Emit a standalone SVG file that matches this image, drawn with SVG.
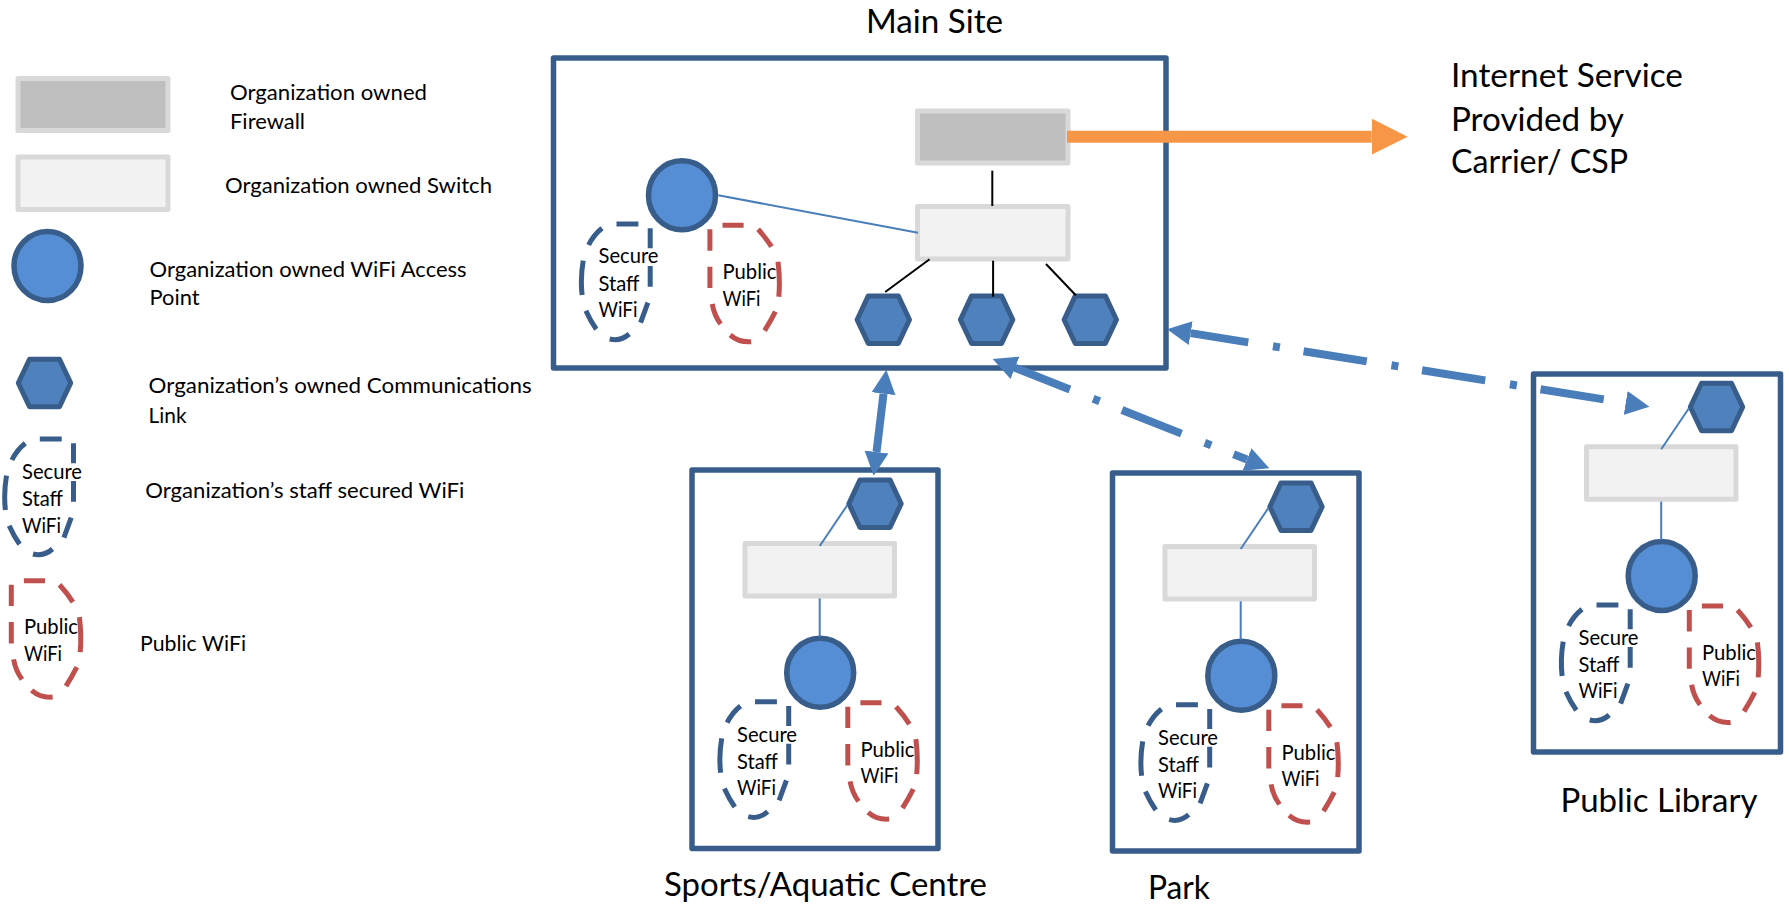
<svg xmlns="http://www.w3.org/2000/svg" width="1789" height="905" viewBox="0 0 1789 905">
<style>
text{font-family:"Lato","Carlito","Liberation Sans",sans-serif;fill:#000;font-size:21.5px}
.s{font-size:21px}
.t{font-size:33.5px}
.site{fill:#fff;stroke:#385d8a;stroke-width:5.5;stroke-linejoin:round}
.fw{fill:#bfbfbf;stroke:#d9d9d9;stroke-width:5;stroke-linejoin:round}
.sw{fill:#f2f2f2;stroke:#d9d9d9;stroke-width:5;stroke-linejoin:round}
.ap{fill:#558ed5;stroke:#385d8a;stroke-width:5.5}
.hex{fill:#4f81bd;stroke:#385d8a;stroke-width:5;stroke-linejoin:round}
.sec{fill:none;stroke:#385d8a;stroke-width:5}
.pub{fill:none;stroke:#c0504d;stroke-width:5}
.thin{stroke:#4a7ebb;stroke-width:2;fill:none}
.blk{stroke:#000;stroke-width:2;fill:none}
.link{stroke:#4a7ebb;stroke-width:8;fill:none}
.dd{stroke-dasharray:64 25 7 24}
</style>
<defs>
<marker id="ah" markerUnits="userSpaceOnUse" markerWidth="26" markerHeight="26" refX="0" refY="12" orient="auto-start-reverse" viewBox="0 0 26 24"><path d="M0 0L24 12L0 24Z" fill="#4a7ebb"/></marker>
<marker id="oh" markerUnits="userSpaceOnUse" markerWidth="38" markerHeight="38" refX="0" refY="18" orient="auto" viewBox="0 0 38 36"><path d="M0 0L36 18L0 36Z" fill="#f79646"/></marker>
<path id="hexagon" d="M-26.2 0L-15-23.8H15L26.2 0L15 23.8H-15Z"/>
<path id="secure" d="M0 0H21.9M33.7 4.3V24.3M33.7 42V62.7M31.4 78.7L24.1 98.7M12.7 110Q3.9 117.7-6.8 115M-20.2 105.3Q-26 97-30.6 86.7M-34.4 71Q-36.3 54.3-33.3 36.7M-27.9 21Q-22.9 11-14.5 4.3"/>
<path id="public" d="M0 0H21.1M-12.6 4V25.4M-12.6 41.4V62.7M-10.3 78.7Q-8.4 89.7-1.9 98.7M7.7 109.7Q16.5 117.4 28.7 116.4M42.1 105.4Q48 96 52.9 86.4M56.3 71.4Q57.8 54.7 55.5 36.4M49 21.4Q43 12 35.6 4"/>
</defs>
<rect width="1789" height="905" fill="#fff"/>

<g id="legend">
<g id="legend-firewall"><rect class="fw" x="18" y="78.5" width="150" height="52"/>
<text x="230" y="100" textLength="197" lengthAdjust="spacingAndGlyphs">Organization owned</text>
<text x="230" y="129" textLength="75" lengthAdjust="spacingAndGlyphs">Firewall</text></g>
<g id="legend-switch"><rect class="sw" x="18" y="157" width="150" height="52.5"/>
<text x="225" y="193.3" textLength="267" lengthAdjust="spacingAndGlyphs">Organization owned Switch</text></g>
<g id="legend-ap"><ellipse class="ap" cx="47.5" cy="266" rx="33.5" ry="34.5"/>
<text x="149.6" y="276.7" textLength="317" lengthAdjust="spacingAndGlyphs">Organization owned WiFi Access</text>
<text x="149.6" y="305" textLength="50" lengthAdjust="spacingAndGlyphs">Point</text></g>
<g id="legend-link"><use href="#hexagon" class="hex" x="44.5" y="383"/>
<text x="148.6" y="393" textLength="383" lengthAdjust="spacingAndGlyphs">Organization’s owned Communications</text>
<text x="148.6" y="422.7" textLength="38" lengthAdjust="spacingAndGlyphs">Link</text></g>
<g id="legend-secure"><use href="#secure" class="sec" x="39.8" y="439"/>
<text class="s" x="22" y="479.3" textLength="60" lengthAdjust="spacingAndGlyphs">Secure</text>
<text class="s" x="22" y="506" textLength="41" lengthAdjust="spacingAndGlyphs">Staff</text>
<text class="s" x="22" y="532.7" textLength="39" lengthAdjust="spacingAndGlyphs">WiFi</text>
<text x="145.3" y="498.3" textLength="319" lengthAdjust="spacingAndGlyphs">Organization’s staff secured WiFi</text></g>
<g id="legend-public"><use href="#public" class="pub" x="23.9" y="580.7"/>
<text class="s" x="24" y="634" textLength="54" lengthAdjust="spacingAndGlyphs">Public</text>
<text class="s" x="24" y="660.7" textLength="38" lengthAdjust="spacingAndGlyphs">WiFi</text>
<text x="140" y="650.7" textLength="106" lengthAdjust="spacingAndGlyphs">Public WiFi</text></g>
</g>

<g id="site-main">
<rect class="site" x="553.5" y="58" width="612.5" height="310"/>
<text class="t" x="866" y="32.7" textLength="137" lengthAdjust="spacingAndGlyphs">Main Site</text>
<g id="main-firewall"><rect class="fw" x="917.5" y="111" width="150.5" height="52"/></g>
<g id="main-switch"><rect class="sw" x="917.5" y="206.5" width="150.5" height="52.5"/></g>
<g id="main-link-1"><use href="#hexagon" class="hex" x="883.3" y="319.7"/></g>
<g id="main-link-2"><use href="#hexagon" class="hex" x="986.6" y="319.7"/></g>
<g id="main-link-3"><use href="#hexagon" class="hex" x="1090.3" y="319.7"/></g>
<g id="main-ap"><ellipse class="ap" cx="682" cy="195.3" rx="33.5" ry="34.5"/></g>
<g id="main-secure"><use href="#secure" class="sec" x="616.5" y="224"/>
<text class="s" x="598.5" y="263.3" textLength="60" lengthAdjust="spacingAndGlyphs">Secure</text>
<text class="s" x="598.5" y="290.7" textLength="41" lengthAdjust="spacingAndGlyphs">Staff</text>
<text class="s" x="598.5" y="317.3" textLength="39" lengthAdjust="spacingAndGlyphs">WiFi</text></g>
<g id="main-public"><use href="#public" class="pub" x="722.5" y="225.3"/>
<text class="s" x="722.5" y="278.7" textLength="54" lengthAdjust="spacingAndGlyphs">Public</text>
<text class="s" x="722.5" y="306" textLength="38" lengthAdjust="spacingAndGlyphs">WiFi</text></g>
</g>

<g id="site-sports">
<rect class="site" x="692" y="470" width="246" height="378.5"/>
<text class="t" x="664" y="895.7" textLength="323" lengthAdjust="spacingAndGlyphs">Sports/Aquatic Centre</text>
<g id="sports-link"><use href="#hexagon" class="hex" x="875" y="503.7"/></g>
<g id="sports-switch"><rect class="sw" x="745" y="543.5" width="149.5" height="52.5"/></g>
<g id="sports-ap"><ellipse class="ap" cx="820.2" cy="672.7" rx="33.5" ry="34.5"/></g>
<g id="sports-secure"><use href="#secure" class="sec" x="755" y="701.7"/>
<text class="s" x="737" y="741.7" textLength="60" lengthAdjust="spacingAndGlyphs">Secure</text>
<text class="s" x="737" y="768.7" textLength="41" lengthAdjust="spacingAndGlyphs">Staff</text>
<text class="s" x="737" y="795" textLength="39" lengthAdjust="spacingAndGlyphs">WiFi</text></g>
<g id="sports-public"><use href="#public" class="pub" x="860.4" y="702.7"/>
<text class="s" x="860.5" y="756.7" textLength="54" lengthAdjust="spacingAndGlyphs">Public</text>
<text class="s" x="860.5" y="782.7" textLength="38" lengthAdjust="spacingAndGlyphs">WiFi</text></g>
</g>

<g id="site-park">
<rect class="site" x="1112.5" y="473" width="246.5" height="378"/>
<text class="t" x="1148" y="899" textLength="62" lengthAdjust="spacingAndGlyphs">Park</text>
<g id="park-link"><use href="#hexagon" class="hex" x="1296" y="506.7"/></g>
<g id="park-switch"><rect class="sw" x="1165" y="546.5" width="149.5" height="52.5"/></g>
<g id="park-ap"><ellipse class="ap" cx="1241.3" cy="675.7" rx="33.5" ry="34.5"/></g>
<g id="park-secure"><use href="#secure" class="sec" x="1176" y="704.7"/>
<text class="s" x="1158" y="744.7" textLength="60" lengthAdjust="spacingAndGlyphs">Secure</text>
<text class="s" x="1158" y="771.7" textLength="41" lengthAdjust="spacingAndGlyphs">Staff</text>
<text class="s" x="1158" y="798" textLength="39" lengthAdjust="spacingAndGlyphs">WiFi</text></g>
<g id="park-public"><use href="#public" class="pub" x="1281.4" y="705.7"/>
<text class="s" x="1281.5" y="759.7" textLength="54" lengthAdjust="spacingAndGlyphs">Public</text>
<text class="s" x="1281.5" y="785.7" textLength="38" lengthAdjust="spacingAndGlyphs">WiFi</text></g>
</g>

<g id="site-library">
<rect class="site" x="1533.5" y="374" width="247" height="378"/>
<text class="t" x="1560.5" y="812" textLength="197" lengthAdjust="spacingAndGlyphs">Public Library</text>
<g id="library-link"><use href="#hexagon" class="hex" x="1716.5" y="407"/></g>
<g id="library-switch"><rect class="sw" x="1586.5" y="446.8" width="149.5" height="52.5"/></g>
<g id="library-ap"><ellipse class="ap" cx="1661.7" cy="576" rx="33.5" ry="34.5"/></g>
<g id="library-secure"><use href="#secure" class="sec" x="1596.5" y="605"/>
<text class="s" x="1578.5" y="645" textLength="60" lengthAdjust="spacingAndGlyphs">Secure</text>
<text class="s" x="1578.5" y="672" textLength="41" lengthAdjust="spacingAndGlyphs">Staff</text>
<text class="s" x="1578.5" y="698.3" textLength="39" lengthAdjust="spacingAndGlyphs">WiFi</text></g>
<g id="library-public"><use href="#public" class="pub" x="1701.9" y="606"/>
<text class="s" x="1702" y="660" textLength="54" lengthAdjust="spacingAndGlyphs">Public</text>
<text class="s" x="1702" y="686" textLength="38" lengthAdjust="spacingAndGlyphs">WiFi</text></g>
</g>

<g id="internet-label">
<text class="t" x="1451" y="86.7" textLength="232" lengthAdjust="spacingAndGlyphs">Internet Service</text>
<text class="t" x="1451" y="130.7" textLength="173" lengthAdjust="spacingAndGlyphs">Provided by</text>
<text class="t" x="1451" y="173.3" textLength="177" lengthAdjust="spacingAndGlyphs">Carrier/ CSP</text>
</g>

<g id="connectors">
<path class="blk" d="M992.3 170.7V206"/>
<path class="blk" d="M929.6 259.3L885.2 292"/>
<path class="blk" d="M993.1 260.7V296.7"/>
<path class="blk" d="M1046 264L1075.8 295.3"/>
<path class="thin" d="M718.3 195.3L918 232.7"/>
<path class="thin" d="M847.4 505L819.7 546"/>
<path class="thin" d="M819.7 598.3V636.7"/>
<path class="thin" d="M1268.4 508L1240.7 549"/>
<path class="thin" d="M1240.7 601.3V639.7"/>
<path class="thin" d="M1688.9 408.3L1661.2 449.3"/>
<path class="thin" d="M1661.2 501.6V540"/>
<path d="M1067 136.7H1371.7" fill="none" stroke="#f79646" stroke-width="12" marker-end="url(#oh)"/>
<path class="link" d="M883.5 393.7L876.5 452" marker-start="url(#ah)" marker-end="url(#ah)"/>
<path class="link dd" stroke-dashoffset="5" d="M1015 367.8L1247 459.5" marker-start="url(#ah)" marker-end="url(#ah)"/>
<path class="link dd" stroke-dashoffset="5.7" d="M1190.7 333.1L1625.7 402.9" marker-start="url(#ah)" marker-end="url(#ah)"/>
</g>
</svg>
